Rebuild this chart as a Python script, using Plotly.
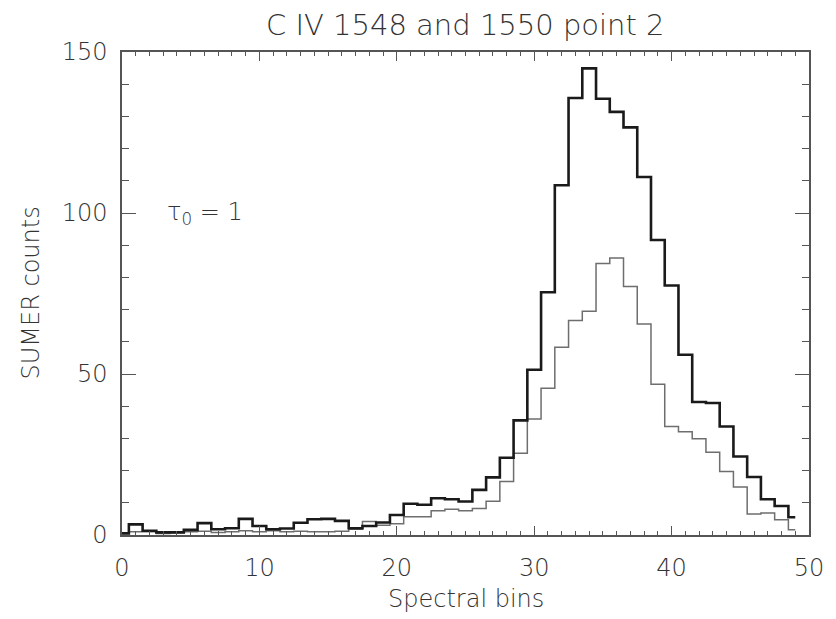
import plotly.graph_objects as go

bins = list(range(50))
thick_counts = [0.5, 3.3, 1.3, 0.8, 0.8, 1.6, 3.7, 1.8, 2.1, 5.0,
                2.8, 1.8, 2.0, 3.8, 4.9, 5.0, 4.4, 2.1, 2.8, 3.9,
                6.2, 9.7, 9.4, 11.4, 11.1, 10.4, 14.0, 17.9, 24.0, 35.6,
                51.3, 75.4, 108.6, 135.7, 144.9, 135.5, 131.4, 126.6, 111.2, 91.6,
                77.5, 56.0, 41.3, 41.0, 33.7, 24.4, 18.0, 11.1, 9.0, 5.5]
thin_counts = [0.5, 1.0, 1.0, 0.5, 0.7, 1.0, 1.2, 0.8, 1.0, 1.3,
               1.0, 1.3, 1.0, 1.2, 1.0, 1.0, 1.2, 1.8, 4.2, 3.0,
               3.5, 5.7, 5.7, 7.5, 8.0, 7.5, 8.2, 10.5, 16.6, 25.4,
               36.0, 45.6, 58.3, 66.6, 69.5, 84.3, 86.0, 77.2, 65.5, 46.8,
               33.7, 32.1, 29.9, 25.7, 19.7, 14.9, 6.5, 6.8, 4.7, 1.6]
x_ticks = [0, 10, 20, 30, 40, 50]
y_ticks = [0, 50, 100, 150]

FONT = "DejaVu Sans"
W = 200
TXT = "#333333"
AX = "#555555"

fig = go.Figure()
fig.add_trace(go.Scatter(x=bins, y=thin_counts, mode="lines",
                         line=dict(shape="hvh", color="#6e6e6e", width=1.5),
                         showlegend=False, hoverinfo="skip"))
fig.add_trace(go.Scatter(x=bins, y=thick_counts, mode="lines",
                         line=dict(shape="hvh", color="#1a1a1a", width=2.6),
                         showlegend=False, hoverinfo="skip"))

fig.update_layout(
    width=836, height=619,
    margin=dict(l=122, r=24, t=52, b=84),
    paper_bgcolor="white", plot_bgcolor="white",
    font=dict(family=FONT, color=TXT, size=24, weight=W),
    showlegend=False,
)

fig.update_xaxes(
    range=[0, 50], tickvals=x_ticks, ticktext=[str(v) for v in x_ticks],
    showgrid=False, zeroline=False,
    showline=True, linecolor=AX, linewidth=1.5, mirror="allticks",
    ticks="inside", ticklen=9, tickcolor=AX, tickwidth=1.2,
    ticklabelstandoff=10,
    tickfont=dict(family=FONT, size=24, color=TXT, weight=W),
    minor=dict(dtick=1, ticks="inside", ticklen=4, tickcolor=AX, tickwidth=1, showgrid=False),
)
fig.update_yaxes(
    range=[0, 150], tickvals=y_ticks, ticktext=[str(v) for v in y_ticks],
    showgrid=False, zeroline=False,
    showline=True, linecolor=AX, linewidth=1.5, mirror="allticks",
    ticks="inside", ticklen=14, tickcolor=AX, tickwidth=1.2,
    ticklabelstandoff=8,
    tickfont=dict(family=FONT, size=24, color=TXT, weight=W),
    minor=dict(dtick=10, ticks="inside", ticklen=7, tickcolor=AX, tickwidth=1, showgrid=False),
)

fig.add_annotation(text="C IV 1548 and 1550 point 2", xref="paper", yref="paper",
                   x=0.5, y=1, yshift=27, xanchor="center", yanchor="middle",
                   showarrow=False, font=dict(family=FONT, size=29, color=TXT, weight=W))
fig.add_annotation(text="Spectral bins", xref="paper", yref="paper",
                   x=0.5, y=0, yshift=-64, xanchor="center", yanchor="middle",
                   showarrow=False, font=dict(family=FONT, size=24, color=TXT, weight=W))
fig.add_annotation(text="SUMER counts", xref="paper", yref="paper",
                   x=0, xshift=-92, y=0.5, xanchor="center", yanchor="middle", textangle=-90,
                   showarrow=False, font=dict(family=FONT, size=24, color=TXT, weight=W))
fig.add_annotation(text="τ<sub>0</sub> = 1", xref="x", yref="y",
                   x=3.1, y=100, xanchor="left", yanchor="middle",
                   showarrow=False, font=dict(family=FONT, size=24, color=TXT, weight=W))

fig.write_html("out.html")
